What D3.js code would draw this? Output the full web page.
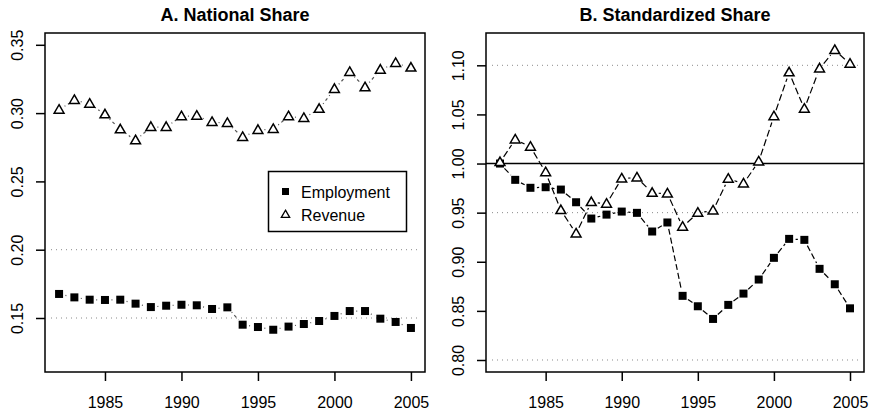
<!DOCTYPE html>
<html>
<head>
<meta charset="utf-8">
<script src="https://cdn.jsdelivr.net/npm/d3@7"></script>
<style>
  body { margin: 0; background: #fff; }
  text { font-family: "Liberation Sans", Arial, sans-serif; }
</style>
</head>
<body>
<div class="vis"></div>
<script>
// data
const years = d3.range(1982, 2006);

const natEmployment = [0.1676, 0.1651, 0.1634, 0.1632, 0.1634, 0.1605, 0.1580, 0.1590, 0.1597, 0.1593, 0.1566, 0.1578,
                       0.1451, 0.1434, 0.1414, 0.1437, 0.1456, 0.1478, 0.1515, 0.1551, 0.1551, 0.1495, 0.1471, 0.1427];
const natRevenue = [0.3024, 0.3095, 0.3068, 0.2990, 0.2880, 0.2800, 0.2898, 0.2898, 0.2976, 0.2980, 0.2934, 0.2927,
                    0.2824, 0.2876, 0.2883, 0.2976, 0.2963, 0.3030, 0.3176, 0.3300, 0.3188, 0.3317, 0.3366, 0.3332];

const stdEmployment = [1.0000, 0.9834, 0.9753, 0.9759, 0.9735, 0.9606, 0.9440, 0.9480, 0.9511, 0.9498, 0.9308, 0.9400,
                       0.8653, 0.8547, 0.8418, 0.8561, 0.8676, 0.8819, 0.9040, 0.9233, 0.9223, 0.8928, 0.8771, 0.8526];
const stdRevenue = [1.0013, 1.0244, 1.0170, 0.9910, 0.9525, 0.9287, 0.9606, 0.9590, 0.9847, 0.9857, 0.9700, 0.9694,
                    0.9355, 0.9498, 0.9521, 0.9844, 0.9796, 1.0020, 1.0480, 1.0927, 1.0557, 1.0967, 1.1154, 1.1015];

const xTicks = [1985, 1990, 1995, 2000, 2005];
const natTicks = [0.15, 0.20, 0.25, 0.30, 0.35];
const stdTicks = [0.80, 0.85, 0.90, 0.95, 1.00, 1.05, 1.10];
const legendLabels = ["Employment", "Revenue"];

const W = 874, H = 419;

let svg = d3.select(".vis")
    .append("svg")
    .attr("width", W)
    .attr("height", H);

const drawPanel = (opts) => {
    const x = d3.scaleLinear().domain([1981.08, 2005.92]).range([opts.left, opts.right]);
    const y = d3.scaleLinear().domain(opts.ydomain).range([opts.bottom, opts.top]);
    let g = svg.append("g");

    // faint dotted grid bits
    opts.grid.forEach(function(v) {
        g.append("line")
            .attr("x1", opts.left + 6).attr("x2", opts.right - 6)
            .attr("y1", y(v)).attr("y2", y(v))
            .attr("stroke", "#8a8a8a")
            .attr("stroke-width", 1)
            .attr("stroke-dasharray", "1,4");
    });

    if (opts.refLine != null) {
        g.append("line")
            .attr("x1", opts.left).attr("x2", opts.right)
            .attr("y1", y(opts.refLine)).attr("y2", y(opts.refLine))
            .attr("stroke", "#000")
            .attr("stroke-width", 1.5);
    }

    // x axis
    let xa = g.append("g")
        .attr("transform", "translate(0," + opts.bottom + ")")
        .call(d3.axisBottom(x).tickValues(xTicks).tickFormat(d3.format("d")).tickSize(9).tickPadding(16));
    xa.select(".domain").remove();
    xa.selectAll("line").attr("stroke-width", 1.5);
    xa.selectAll("text").attr("font-size", 16).attr("fill", "#000");

    // y axis (labels rotated like base R)
    let ya = g.append("g")
        .attr("transform", "translate(" + opts.left + ",0)")
        .call(d3.axisLeft(y).tickValues(opts.yTicks).tickFormat(d3.format(".2f")).tickSize(9));
    ya.select(".domain").remove();
    ya.selectAll("line").attr("stroke-width", 1.5);
    ya.selectAll("text")
        .attr("font-size", 16)
        .attr("fill", "#000")
        .attr("text-anchor", "middle")
        .attr("x", 0).attr("dy", 0)
        .attr("transform", "translate(-28,0) rotate(-90) translate(0,6)");

    // box
    g.append("rect")
        .attr("x", opts.left).attr("y", opts.top)
        .attr("width", opts.right - opts.left).attr("height", opts.bottom - opts.top)
        .attr("fill", "none")
        .attr("stroke", "#000")
        .attr("stroke-width", 1.5);

    // title
    g.append("text")
        .attr("x", (opts.left + opts.right) / 2)
        .attr("y", 21)
        .attr("text-anchor", "middle")
        .attr("font-weight", "bold")
        .attr("font-size", 18)
        .text(opts.title);

    // type="b" connecting segments with gaps around points
    const gap = 6.5;
    const segs = function(vals, dash, col) {
        for (let i = 0; i < vals.length - 1; i++) {
            let x1 = x(years[i]), y1 = y(vals[i]), x2 = x(years[i + 1]), y2 = y(vals[i + 1]);
            let len = Math.hypot(x2 - x1, y2 - y1);
            if (len <= 2 * gap) continue;
            let ux = (x2 - x1) / len, uy = (y2 - y1) / len;
            g.append("line")
                .attr("x1", x1 + ux * gap).attr("y1", y1 + uy * gap)
                .attr("x2", x2 - ux * gap).attr("y2", y2 - uy * gap)
                .attr("stroke", col)
                .attr("stroke-width", 1.2)
                .attr("stroke-dasharray", dash);
        }
    };
    segs(opts.emp, opts.empDash, opts.lineCol);
    segs(opts.rev, opts.revDash, opts.lineCol);

    // employment squares
    g.append("g")
        .selectAll("rect")
        .data(opts.emp)
        .enter()
        .append("rect")
            .attr("x", function(d, i) { return x(years[i]) - 4; })
            .attr("y", function(d) { return y(d) - 4; })
            .attr("width", 8).attr("height", 8)
            .attr("fill", "#000");

    // revenue triangles
    const tri = d3.symbol().type(d3.symbolTriangle).size(42);
    g.append("g")
        .selectAll("path")
        .data(opts.rev)
        .enter()
        .append("path")
            .attr("d", tri)
            .attr("transform", function(d, i) { return "translate(" + x(years[i]) + "," + (y(d) + 0.5) + ")"; })
            .attr("fill", "#fff")
            .attr("stroke", "#000")
            .attr("stroke-width", 1.5);

    return { x: x, y: y, g: g };
};

let pa = drawPanel({
    left: 45, right: 425, top: 33, bottom: 372,
    ydomain: [0.15 - 54 / 1366, 0.15 + 285 / 1366],
    yTicks: natTicks,
    grid: [0.20, 0.15],
    refLine: null,
    title: "A. National Share",
    emp: natEmployment, rev: natRevenue,
    empDash: "1,3,3,3", revDash: "1,3,3,3", lineCol: "#555"
});

drawPanel({
    left: 486, right: 864, top: 33, bottom: 372,
    ydomain: [0.80 - 12 / 982, 1.10 + 32.3 / 982],
    yTicks: stdTicks,
    grid: [1.10, 0.95, 0.80],
    refLine: 1.00,
    title: "B. Standardized Share",
    emp: stdEmployment, rev: stdRevenue,
    empDash: "6,3", revDash: "7,3", lineCol: "#000"
});

// legend in panel A
let lg = pa.g.append("g");
lg.append("rect")
    .attr("x", 268.5).attr("y", 171.5)
    .attr("width", 138).attr("height", 60)
    .attr("fill", "#fff")
    .attr("stroke", "#000")
    .attr("stroke-width", 1.5);
legendLabels.forEach(function(lab, i) {
    let cy = 192 + i * 22.5;
    if (i === 0) {
        lg.append("rect").attr("x", 282).attr("y", cy - 4).attr("width", 7).attr("height", 7).attr("fill", "#000");
    } else {
        lg.append("path")
            .attr("d", d3.symbol().type(d3.symbolTriangle).size(30))
            .attr("transform", "translate(285.5," + (cy + 0.5) + ")")
            .attr("fill", "#fff").attr("stroke", "#000").attr("stroke-width", 1.3);
    }
    lg.append("text")
        .attr("x", 301).attr("y", cy + 6)
        .attr("font-size", 16)
        .text(lab);
});
</script>
</body>
</html>
